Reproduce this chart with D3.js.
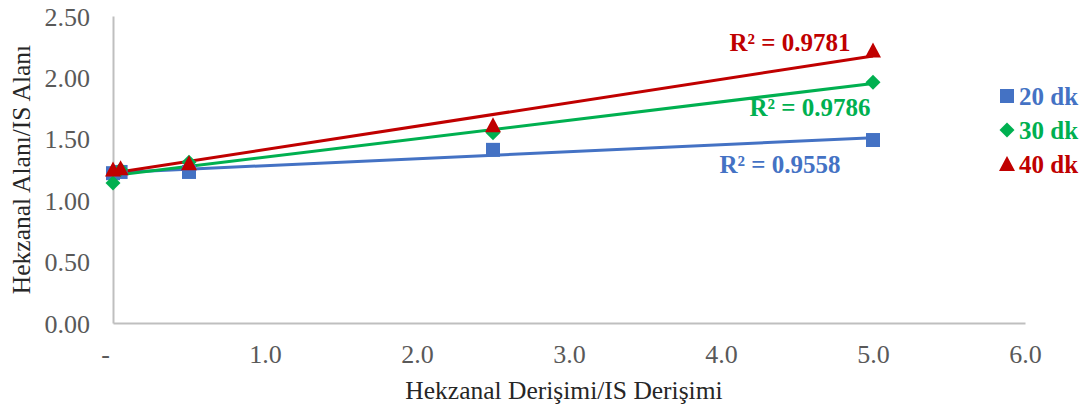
<!DOCTYPE html>
<html>
<head>
    <meta charset="utf-8">
    <title>Hekzanal</title>
    <style>
        body { margin: 0; background: #fff; }
        svg text { font-family: 'Liberation Serif', 'Times New Roman', serif; }
    </style>
</head>
<body>
    <div id="chart"></div>
    <script src="https://cdn.jsdelivr.net/npm/d3@7/dist/d3.min.js"></script>
    <script>
        // data
        const xValues = [0, 0.05, 0.5, 2.5, 5];
        const seriesNames = ["20 dk", "30 dk", "40 dk"];
        const values20 = [1.22, 1.23, 1.23, 1.41, 1.49];
        const values30 = [1.14, 1.25, 1.31, 1.55, 1.96];
        const values40 = [1.25, 1.26, 1.30, 1.61, 2.22];
        const r2Labels = ["R² = 0.9558", "R² = 0.9786", "R² = 0.9781"];
        const xTicks = [0, 1, 2, 3, 4, 5, 6];
        const yTicks = [0, 0.5, 1, 1.5, 2, 2.5];

        const colors = ["#4472C4", "#00B050", "#C00000"];
        const allValues = [values20, values30, values40];

        const [W, H] = [1085, 412];
        const margin = {top: 16, right: 60, bottom: 89, left: 113};

        const svg = d3.select("#chart").append("svg")
            .attr("width", W)
            .attr("height", H);

        const x = d3.scaleLinear().domain([0, 6]).range([margin.left, 1025]);
        const y = d3.scaleLinear().domain([0, 2.5]).range([H - margin.bottom, margin.top]);

        // axes
        const xAxis = d3.axisBottom(x).tickValues(xTicks).tickSize(0)
            .tickFormat(d => d === 0 ? "-" : d3.format(".1f")(d));
        const gx = svg.append("g")
            .attr("transform", `translate(0, ${y(0)})`)
            .call(xAxis);
        gx.select(".domain").attr("stroke", "#bfbfbf").attr("stroke-width", 2);
        gx.selectAll("text")
            .attr("fill", "#595959")
            .attr("font-size", 26)
            .attr("y", 40)
            .attr("dy", 0)
            .attr("dx", d => d === 0 ? -8 : 0);

        const yAxis = d3.axisLeft(y).tickValues(yTicks).tickSize(0)
            .tickFormat(d3.format(".2f"));
        const gy = svg.append("g")
            .attr("transform", `translate(${x(0)}, 0)`)
            .call(yAxis);
        gy.select(".domain").attr("stroke", "#bfbfbf").attr("stroke-width", 2);
        gy.selectAll("text")
            .attr("fill", "#595959")
            .attr("font-size", 26)
            .attr("x", -23)
            .attr("dy", "0.35em");

        // axis titles
        svg.append("text")
            .attr("x", 564)
            .attr("y", 399)
            .attr("text-anchor", "middle")
            .attr("font-size", 25.5)
            .attr("fill", "#262626")
            .text("Hekzanal Derişimi/IS Derişimi");

        svg.append("text")
            .attr("transform", `translate(30, ${(y(0) + y(2.5)) / 2}) rotate(-90)`)
            .attr("text-anchor", "middle")
            .attr("font-size", 25.5)
            .attr("fill", "#262626")
            .text("Hekzanal Alanı/IS Alanı");

        // linear trendline by least squares
        function fit(xs, ys) {
            const mx = d3.mean(xs), my = d3.mean(ys);
            let sxy = 0, sxx = 0;
            xs.forEach((xv, i) => {
                sxy += (xv - mx) * (ys[i] - my);
                sxx += (xv - mx) * (xv - mx);
            });
            const slope = sxy / sxx;
            return {slope: slope, intercept: my - slope * mx};
        }

        const line = d3.line().x(d => x(d[0])).y(d => y(d[1]));

        allValues.forEach((vals, s) => {
            const f = fit(xValues, vals);
            const x0 = d3.min(xValues), x1 = d3.max(xValues);
            svg.append("path")
                .datum([[x0, f.intercept + f.slope * x0], [x1, f.intercept + f.slope * x1]])
                .attr("d", line)
                .attr("fill", "none")
                .attr("stroke", colors[s])
                .attr("stroke-width", 3);
        });

        // marker shapes: square, diamond (rotated square), triangle
        function marker(sel, s) {
            if (s === 0) {
                sel.append("path").attr("d", d3.symbol().type(d3.symbolSquare).size(196));
            } else if (s === 1) {
                sel.append("path").attr("d", d3.symbol().type(d3.symbolSquare).size(112))
                    .attr("transform", "rotate(45)");
            } else {
                sel.append("path").attr("d", "M0,-8L8,7L-8,7Z");
            }
            sel.attr("fill", colors[s]);
        }

        allValues.forEach((vals, s) => {
            svg.append("g").selectAll("g")
                .data(vals.map((v, i) => [xValues[i], v]))
                .join("g")
                .attr("transform", d => `translate(${x(d[0])}, ${y(d[1])})`)
                .each(function() { marker(d3.select(this), s); });
        });

        // R² labels
        const r2Pos = [[780, 173], [810, 116], [790, 51]];
        r2Labels.forEach((t, s) => {
            svg.append("text")
                .attr("x", r2Pos[s][0])
                .attr("y", r2Pos[s][1])
                .attr("text-anchor", "middle")
                .attr("font-size", 25)
                .attr("font-weight", "bold")
                .attr("fill", colors[s])
                .text(t);
        });

        // legend
        const legend = svg.append("g").attr("transform", "translate(1007, 96)");
        seriesNames.forEach((name, s) => {
            const g = legend.append("g").attr("transform", `translate(0, ${s * 34})`);
            marker(g, s);
            g.append("text")
                .attr("x", 12)
                .attr("dy", "0.35em")
                .attr("font-size", 25)
                .attr("font-weight", "bold")
                .attr("fill", colors[s])
                .text(name);
        });
    </script>
</body>
</html>
